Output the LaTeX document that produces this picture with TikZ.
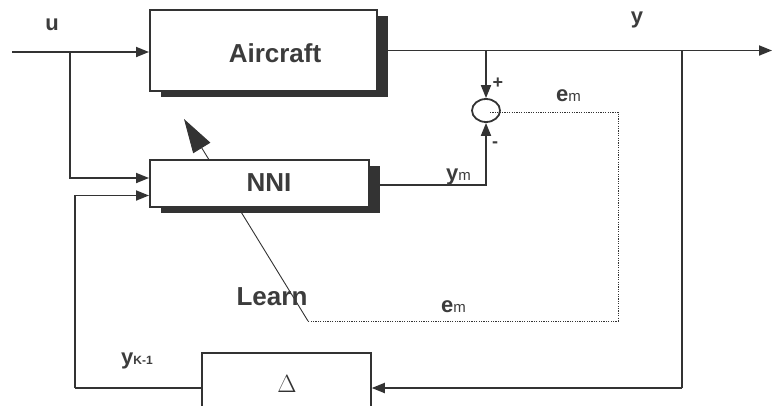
\documentclass[tikz,border=0pt]{standalone}
\usepackage{fontspec}
\setmainfont{Liberation Sans}
\usetikzlibrary{arrows.meta,shapes.geometric,calc}
\definecolor{ink}{HTML}{333333}
\definecolor{txt}{HTML}{3c3c3c}
\begin{document}
\begin{tikzpicture}[x=1pt,y=-1pt,
  wire/.style={draw=ink,line width=1.8pt},
  arr/.style={wire,-{Triangle[length=13pt,width=10pt]}},
  blk/.style={draw=ink,line width=2pt,fill=white,rectangle,inner sep=0pt},
  shade/.style={fill=ink,draw=none},
  big/.style={font=\fontsize{26}{26}\selectfont\bfseries,text=txt},
  lbl/.style={font=\fontsize{22}{22}\selectfont\bfseries,text=txt,inner sep=0pt},
  sgn/.style={font=\fontsize{18}{18}\selectfont\bfseries,text=txt,inner sep=0pt},
  dot/.style={draw=ink,line width=0.9pt,dash pattern=on 1.2pt off 1.2pt}]
\useasboundingbox (0,0) rectangle (772,405);
\clip (0,0) rectangle (772,405);
\fill[white] (0,0) rectangle (772,405);

% named points
\coordinate (uin) at (12,52);
\coordinate (uj) at (70,52);
\coordinate (yout) at (772,50.5);
\coordinate (fb) at (682,388);
\coordinate (fl) at (75,388);
\coordinate (em1) at (618,112);
\coordinate (em2) at (618,321);
\coordinate (ln0) at (308,321);
\coordinate (lntip) at (184,119);

% learning line (under the NNI box)
\draw[draw=ink,line width=0.9pt,-{Triangle[length=34pt,width=20pt]}] (ln0) -- (lntip);

% shadows
\fill[shade] (161,16) rectangle (388,97);
\fill[shade] (161,166) rectangle (380,213);

% blocks
\node[blk,minimum width=227pt,minimum height=81pt] (aircraft) at (263.5,50.5) {};
\node[big] at (275,53) {Aircraft};
\node[blk,minimum width=219pt,minimum height=47pt] (nni) at (259.5,183.5) {};
\node[big] at (269,183) {NNI};
\node[draw=ink,line width=1.5pt,fill=white,rectangle,inner sep=0pt,
      minimum width=169pt,minimum height=64pt] (delta) at (286.5,385) {};
\node[text=ink,font=\fontsize{30}{30}\selectfont] at (287,384) {$\Delta$};
\node[draw=ink,line width=1.8pt,ellipse,inner sep=0pt,minimum width=28pt,minimum height=23pt] (sum) at (486,110.5) {};

% connectors
\draw[arr] (uin) -- (uin -| aircraft.west);
\draw[arr] (uj) |- ([yshift=5.5pt]nni.west);
\draw[arr] (aircraft.east) -- (yout);
\draw[arr] (aircraft.east -| sum.north) -- (sum.north);
\draw[arr] (nni.east |- 0,185) -| (sum.south);
\draw[wire] (aircraft.east -| fb) -- (fb);
\draw[arr] (fb) -- (fb -| delta.east);
\draw[wire] (fb -| delta.west) -- (fl);
\draw[arr] (fl) |- ([yshift=-12pt]nni.west);
\draw[dot] ([xshift=4pt,yshift=-1.5pt]sum.center) -- (em1) -- (em2) -- (ln0);

% labels
\node[lbl] at (52,25) {u};
\node[lbl] at (637,20) {y};
\node[sgn] at (498,83) {+};
\node[sgn] at (495,145) {-};
\node[lbl,anchor=base west] at (446,180) {y{\fontsize{15}{15}\selectfont\mdseries m}};
\node[lbl,anchor=base west] at (556,101) {e{\fontsize{15}{15}\selectfont\mdseries m}};
\node[lbl,anchor=base west] at (441,312) {e{\fontsize{15}{15}\selectfont\mdseries m}};
\node[lbl,anchor=base west] at (121,364) {y{\fontsize{12}{12}\selectfont K-1}};
\node[big,inner sep=0pt] at (272,297) {Learn};
\end{tikzpicture}
\end{document}
